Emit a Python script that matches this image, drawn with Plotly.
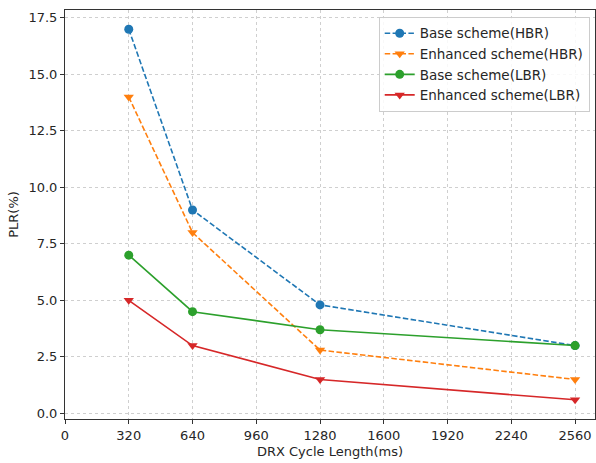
import plotly.graph_objects as go

x_vals = [320, 640, 1280, 2560]
base_hbr = [17.0, 9.0, 4.8, 3.0]
enh_hbr = [14.0, 8.0, 2.8, 1.5]
base_lbr = [7.0, 4.5, 3.7, 3.0]
enh_lbr = [5.0, 3.0, 1.5, 0.6]
x_ticks = [0, 320, 640, 960, 1280, 1600, 1920, 2240, 2560]
y_ticks = [0.0, 2.5, 5.0, 7.5, 10.0, 12.5, 15.0, 17.5]

series = [
    ("Base scheme(HBR)", base_hbr, "#1f77b4", "circle", "5.5px,2.4px"),
    ("Enhanced scheme(HBR)", enh_hbr, "#ff7f0e", "triangle-down", "5.5px,2.4px"),
    ("Base scheme(LBR)", base_lbr, "#2ca02c", "circle", "solid"),
    ("Enhanced scheme(LBR)", enh_lbr, "#d62728", "triangle-down", "solid"),
]

fig = go.Figure()
for name, ys, color, sym, dash in series:
    fig.add_trace(go.Scatter(
        x=x_vals, y=ys, name=name, mode="lines+markers",
        line=dict(color=color, width=1.6, dash=dash),
        marker=dict(symbol=sym, size=9, color=color),
    ))

font = dict(family="DejaVu Sans", size=13, color="#262626")
axis_common = dict(
    showline=True, linecolor="#333333", linewidth=1, mirror=True,
    ticks="outside", ticklen=4, tickcolor="#333333",
    showgrid=True, gridcolor="#cfcfcf", griddash="dot", gridwidth=0.9,
    zeroline=False, tickfont=font,
)
fig.update_layout(
    width=596, height=463,
    margin=dict(l=65, r=1, t=10, b=44),
    plot_bgcolor="white", paper_bgcolor="white",
    font=font,
    xaxis=dict(range=[0, 2660], tickvals=x_ticks,
               title=dict(text="DRX Cycle Length(ms)", font=font, standoff=5),
               **axis_common),
    yaxis=dict(range=[-0.25, 17.85], tickvals=y_ticks, tickformat=".1f",
               title=dict(text="PLR(%)", font=font, standoff=6),
               **axis_common),
    legend=dict(x=0.99, y=0.983, xanchor="right", yanchor="top",
                bgcolor="rgba(255,255,255,0.85)", bordercolor="#cccccc",
                borderwidth=1, font=dict(family="DejaVu Sans", size=13.5, color="#262626"),
                tracegroupgap=0),
    showlegend=True,
)
fig.write_html("out.html", config={"displayModeBar": False},
               post_script="document.body.style.margin='0';document.body.style.padding='0';")
